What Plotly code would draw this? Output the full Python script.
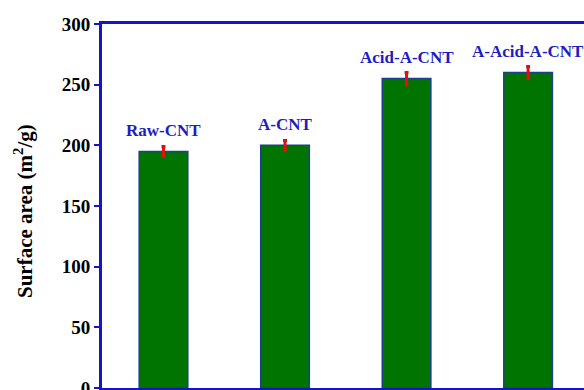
import plotly.graph_objects as go

# Specific surface area of the CNT samples
samples = ["Raw-CNT", "A-CNT", "Acid-A-CNT", "A-Acid-A-CNT"]
surface_area = [195, 200, 255, 260]
area_error = [4, 4, 5, 5]
y_ticks = [0, 50, 100, 150, 200, 250, 300]

AXIS_BLUE = "#1414c8"
LABEL_BLUE = "#1e1ec0"
BAR_GREEN = "#007400"
SERIF = "Liberation Serif, Times New Roman, serif"

W, H = 584, 390
M_L, M_R, M_T, M_B = 102, 0, 24, 2
plot_w = W - M_L - M_R
plot_h = H - M_T - M_B

x_pos = list(range(len(samples)))

fig = go.Figure()
fig.add_trace(go.Bar(
    x=x_pos,
    y=surface_area,
    width=0.40,
    marker=dict(color=BAR_GREEN, line=dict(color="#1c3f8f", width=1.5)),
    error_y=dict(type="data", array=area_error, color="#e01010",
                 thickness=3, width=2),
    showlegend=False,
))

# Sample names above each bar
for i, (name, val) in enumerate(zip(samples, surface_area)):
    fig.add_annotation(
        x=i, y=val, text=f"<b>{name}</b>", showarrow=False,
        yanchor="middle", yshift=21,
        font=dict(family=SERIF, size=17, color=LABEL_BLUE),
    )

# Vertical axis title
fig.add_annotation(
    xref="paper", yref="paper",
    x=-(M_L - 24) / plot_w, y=(H - M_B - 211) / plot_h,
    xanchor="center", yanchor="middle", textangle=-90,
    text="<b>Surface area (m<sup>2</sup>/g)</b>", showarrow=False,
    font=dict(family=SERIF, size=21, color="black"),
)

fig.update_layout(
    width=W, height=H,
    margin=dict(l=M_L, r=M_R, t=M_T, b=M_B, autoexpand=False),
    plot_bgcolor="white", paper_bgcolor="white",
    xaxis=dict(
        range=[-0.506, 3.46], showticklabels=False, ticks="",
        showgrid=False, zeroline=False, automargin=False,
        showline=True, linecolor=AXIS_BLUE, linewidth=3, mirror=True,
    ),
    yaxis=dict(
        range=[0, 300], tickvals=y_ticks,
        ticktext=[f"<b>{v}</b>" for v in y_ticks],
        ticks="outside", ticklen=5, tickwidth=2, tickcolor=AXIS_BLUE,
        ticklabeloverflow="allow", automargin=False,
        showgrid=False, zeroline=False,
        showline=True, linecolor=AXIS_BLUE, linewidth=3, mirror=False,
        tickfont=dict(family=SERIF, size=19, color="black"),
    ),
)

fig.write_html("out.html")
